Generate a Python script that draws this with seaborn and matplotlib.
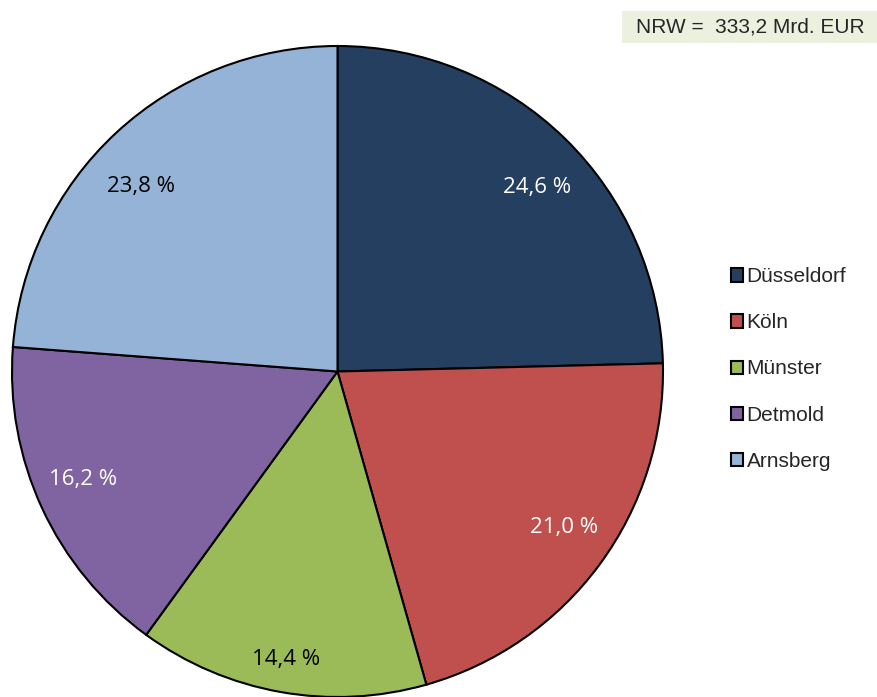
import numpy as np
import matplotlib
matplotlib.use("Agg")
import matplotlib.pyplot as plt
from matplotlib.patches import Rectangle
import seaborn as sns

# Anteile der Regierungsbezirke (%)
bezirke = ["Düsseldorf", "Köln", "Münster", "Detmold", "Arnsberg"]
anteile = [24.6, 21.0, 14.4, 16.2, 23.8]
farben = ["#243F60", "#C0504D", "#9BBB59", "#8064A2", "#95B3D7"]
label_farben = ["white", "white", "black", "white", "black"]
summe_text = "NRW =  333,2 Mrd. EUR"

sns.set_theme(style="white")
plt.rcParams["font.family"] = ["Liberation Sans", "DejaVu Sans"]

fig = plt.figure(figsize=(8.78, 6.97), dpi=100)
W, H = 878, 697
ax = fig.add_axes([12 / W, 0, 651 / W, 651 / H])

pal = sns.color_palette(farben)
wedges, _ = ax.pie(anteile, colors=pal, startangle=90, counterclock=False,
                   wedgeprops=dict(edgecolor="black", linewidth=1.5))
ax.set_xlim(-1, 1)
ax.set_ylim(-1, 1)

# Beschriftungen (Excel "beste Anpassung" ungefähr)
abstand = [0.835, 0.846, 0.90, 0.85, 0.83]
versatz = [-3.1, 1.9, 0.0, -1.8, 3.8]
for w, val, c, d, dv in zip(wedges, anteile, label_farben, abstand, versatz):
    ang = np.deg2rad((w.theta1 + w.theta2) / 2 + dv)
    ax.text(d * np.cos(ang), d * np.sin(ang), f"{val:.1f} %".replace(".", ","),
            ha="center", va="center", color=c, fontsize=16, family=["Open Sans", "DejaVu Sans"])

leg = fig.legend(wedges, bezirke, loc="center left", bbox_to_anchor=(731 / W, 1 - 369 / H),
                 frameon=False, fontsize=15, handlelength=0.6, handleheight=0.6,
                 handletextpad=0.15, labelspacing=1.3, borderpad=0, borderaxespad=0)

fig.patches.append(Rectangle((622 / W, 1 - 43 / H), (878 - 622) / W, 32 / H,
                             transform=fig.transFigure, facecolor="#EBF1DE", edgecolor="none"))
fig.text(636 / W, 1 - 27 / H, summe_text, ha="left", va="center", fontsize=15)

fig.savefig("out.png", dpi=100)
